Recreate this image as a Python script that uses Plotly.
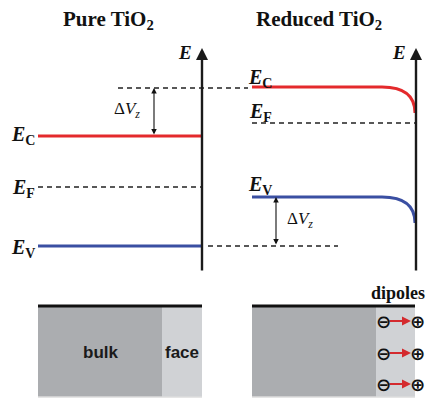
import plotly.graph_objects as go

# ---- data (diagram units: x left->right, y = energy, up is higher) ----
panels = ["Pure TiO<sub>2</sub>", "Reduced TiO<sub>2</sub>"]
panel_title_x = [108, 319]
axis_x = [202, 416]
axis_y = [128, 352]

band_names = ["E_C", "E_F", "E_V"]
pure_levels = [264, 213, 154]
reduced_levels = [313, 277, 203]
pure_x = [38, 202]
reduced_x = [252, 382, 415]
bend_drop = [26, 0, 26]

surface_ref_pure = 312      # dashed level at surface (pure)
surface_ref_x = [118, 248]
reduced_ref_level = 154     # dashed level (reduced EV reference)
reduced_ref_x = [208, 338]
dvz_x = [154, 276]

box_x = [[38, 162, 202], [252, 376, 415]]
box_y = [3, 94]
box_labels = ["bulk", "face"]
dipole_y = [79, 47, 16]
dipole_x = [383, 417]

RED = "#e42a2c"
BLUE = "#3a4fa2"
DARK = "#222222"
SERIF = "Liberation Serif, Times New Roman, serif"
SANS = "Liberation Sans, Arial, sans-serif"

fig = go.Figure()
shapes = []
ann = []

def line_trace(xs, ys, color, width, dash="solid"):
    fig.add_trace(go.Scatter(x=xs, y=ys, mode="lines",
                             line=dict(color=color, width=width, dash=dash),
                             hoverinfo="skip", showlegend=False))

# ---- bottom boxes ----
for bx in box_x:
    shapes.append(dict(type="rect", xref="x", yref="y", x0=bx[0], x1=bx[1],
                       y0=box_y[0], y1=box_y[1], fillcolor="#abadb0",
                       line=dict(width=0), layer="below"))
    shapes.append(dict(type="rect", xref="x", yref="y", x0=bx[1], x1=bx[2],
                       y0=box_y[0], y1=box_y[1], fillcolor="#d0d2d5",
                       line=dict(width=0), layer="below"))
    line_trace([bx[0], bx[2]], [box_y[1], box_y[1]], "#111111", 3)
    line_trace([bx[0], bx[2]], [box_y[0], box_y[0]], "#dcdcdc", 1.5)

ann.append(dict(x=(box_x[0][0] + box_x[0][1]) / 2, y=48, text="<b>bulk</b>",
                showarrow=False, font=dict(family=SANS, size=17, color="#1a1a1a")))
ann.append(dict(x=(box_x[0][1] + box_x[0][2]) / 2, y=48, text="<b>face</b>",
                showarrow=False, font=dict(family=SANS, size=17, color="#1a1a1a")))
ann.append(dict(x=398, y=107, text="<b>dipoles</b>", showarrow=False,
                font=dict(family=SERIF, size=18, color="#111111")))

for dy in dipole_y:
    ann.append(dict(x=dipole_x[1] - 6, y=dy, ax=dipole_x[0] + 5, ay=dy,
                    xref="x", yref="y", axref="x", ayref="y", text="",
                    showarrow=True, arrowhead=2, arrowsize=1, arrowwidth=1.8,
                    arrowcolor="#d42a2e"))
    ann.append(dict(x=dipole_x[0], y=dy, text="<b>⊖</b>", showarrow=False,
                    font=dict(family="DejaVu Sans", size=18, color="#111111")))
    ann.append(dict(x=dipole_x[1], y=dy, text="<b>⊕</b>", showarrow=False,
                    font=dict(family="DejaVu Sans", size=18, color="#111111")))

# ---- pure TiO2 ----
line_trace(pure_x, [pure_levels[0]] * 2, RED, 3)
line_trace(pure_x, [pure_levels[1]] * 2, DARK, 1.6, "5px,4px")
line_trace(pure_x, [pure_levels[2]] * 2, BLUE, 3)
line_trace(surface_ref_x, [surface_ref_pure] * 2, DARK, 1.6, "5px,4px")
line_trace(reduced_ref_x, [reduced_ref_level] * 2, DARK, 1.6, "5px,4px")

# ---- reduced TiO2 ----
for lvl, drop, col in [(reduced_levels[0], bend_drop[0], RED),
                       (reduced_levels[2], bend_drop[2], BLUE)]:
    line_trace(reduced_x[:2], [lvl, lvl], col, 3)
    shapes.append(dict(type="path", xref="x", yref="y",
                       path=f"M {reduced_x[1]},{lvl} Q {reduced_x[2]},{lvl} {reduced_x[2]},{lvl - drop}",
                       line=dict(color=col, width=3)))
line_trace([reduced_x[0], axis_x[1]], [reduced_levels[1]] * 2, DARK, 1.6, "5px,4px")

# ---- energy axes ----
for i in range(2):
    ann.append(dict(x=axis_x[i], y=axis_y[1], ax=axis_x[i], ay=axis_y[0],
                    xref="x", yref="y", axref="x", ayref="y", text="",
                    showarrow=True, arrowhead=2, arrowsize=1.0, arrowwidth=2.4,
                    arrowcolor="#1a1a1a"))
    ann.append(dict(x=axis_x[i] - 17, y=348, text="<b><i>E</i></b>", showarrow=False,
                    font=dict(family=SERIF, size=19, color="#111111")))
    ann.append(dict(x=panel_title_x[i], y=380, text=f"<b>{panels[i]}</b>", showarrow=False,
                    font=dict(family=SERIF, size=21, color="#111111")))

# ---- delta Vz double arrows ----
dvz_pairs = [(surface_ref_pure, pure_levels[0]), (reduced_levels[2], reduced_ref_level)]
dvz_label_pos = [(127, 290), (300, 180)]
for i, (ytop, ybot) in enumerate(dvz_pairs):
    ann.append(dict(x=dvz_x[i], y=ytop, ax=dvz_x[i], ay=ybot,
                    xref="x", yref="y", axref="x", ayref="y", text="",
                    showarrow=True, arrowhead=2, startarrowhead=2, arrowside="end+start",
                    arrowsize=1, startarrowsize=1, arrowwidth=1.1, arrowcolor="#111111"))
    ann.append(dict(x=dvz_label_pos[i][0], y=dvz_label_pos[i][1],
                    text="Δ<i>V</i><sub><i>z</i></sub>", showarrow=False,
                    font=dict(family=SERIF, size=17, color="#111111")))

# ---- band labels ----
sub = ["C", "F", "V"]
pure_label_y = [pure_levels[0] + 1, pure_levels[1] - 1, pure_levels[2] - 2]
for s, ly in zip(sub, pure_label_y):
    ann.append(dict(x=23, y=ly, text=f"<b><i>E</i><sub>{s}</sub></b>", showarrow=False,
                    font=dict(family=SERIF, size=20, color="#111111")))
red_label_y = [322, 288, 215]
for s, ly in zip(sub, red_label_y):
    ann.append(dict(x=260, y=ly, text=f"<b><i>E</i><sub>{s}</sub></b>", showarrow=False,
                    font=dict(family=SERIF, size=20, color="#111111")))

fig.update_layout(
    width=427, height=400, margin=dict(l=0, r=0, t=0, b=0),
    paper_bgcolor="white", plot_bgcolor="white",
    xaxis=dict(range=[0, 427], visible=False, fixedrange=True),
    yaxis=dict(range=[0, 400], visible=False, fixedrange=True),
    shapes=shapes, annotations=ann, showlegend=False,
)
fig.write_html("out.html", config={"displayModeBar": False, "staticPlot": True},
               post_script="document.body.style.margin='0';document.body.style.overflow='hidden';")
